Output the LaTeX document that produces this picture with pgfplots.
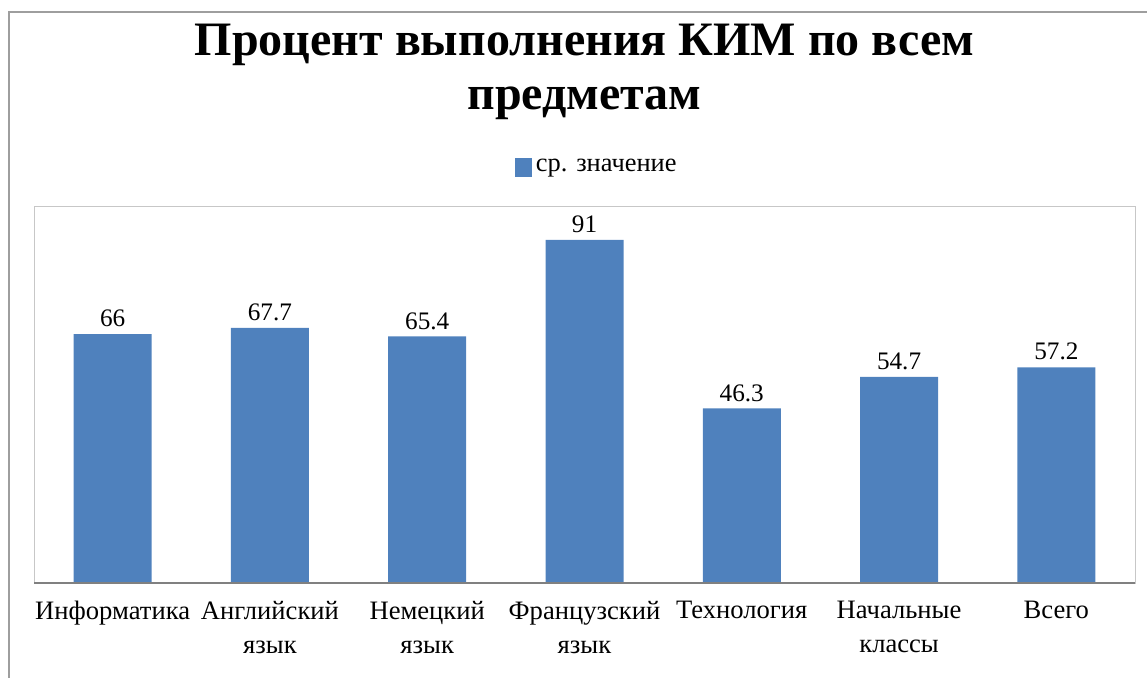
\documentclass[border=0pt]{standalone}
\usepackage{pgfplots}
\pgfplotsset{compat=1.18}
\usepackage{fontspec}
\setmainfont{Liberation Serif}
\definecolor{barblue}{HTML}{4F81BD}
\begin{document}
\begin{tikzpicture}[x=1pt,y=1pt]
\useasboundingbox (0,0) rectangle (573.5,-338.5);
\draw[color=black!38, line width=1.2pt] (4.5,-400) -- (4.5,-6) -- (650,-6);
\node[font=\bfseries\fontsize{24}{24}\selectfont, anchor=base, inner sep=0pt] at (292.25,-27.5) {Процент выполнения КИМ по всем};
\node[font=\bfseries\fontsize{24}{24}\selectfont, anchor=base, inner sep=0pt] at (292.25,-54.5) {предметам};
\begin{axis}[
  at={(17pt,-291.5pt)}, anchor=south west,
  width=550.5pt, height=188.5pt, scale only axis,
  xmin=-0.5, xmax=6.5, ymin=0, ymax=100,
  ybar, bar width=39pt,
  ytick=\empty, xtick=data,
  xticklabels={Информатика,{Английский\\[1.5pt]язык},{Немецкий\\[1.5pt]язык},{Французский\\[1.5pt]язык},Технология,{Начальные\\[1.5pt]классы},Всего},
  major tick length=0pt,
  axis line style={draw=black!22},
  xticklabel style={align=center, font=\fontsize{13.3}{15.5}\selectfont, yshift=-5.5pt},
  /pgf/number format/assume math mode=true,
  nodes near coords,
  nodes near coords style={font=\fontsize{12.6}{12.6}\selectfont, black},
  legend entries={ср. значение},
  legend style={at={(rel axis cs:0.512,1)}, anchor=center, yshift=19.5pt, draw=none, fill=none, font=\fontsize{13.2}{13.2}\selectfont},
  legend image code/.code={\fill[barblue] (0pt,-4.75pt) rectangle (8.5pt,4.75pt);},
]
\addplot[fill=barblue, draw=none] coordinates {(0,66) (1,67.7) (2,65.4) (3,91) (4,46.3) (5,54.7) (6,57.2)};
\draw[color=black!50, line width=1pt] (axis cs:-0.5,0) -- (axis cs:6.5,0);
\end{axis}
\end{tikzpicture}
\end{document}
